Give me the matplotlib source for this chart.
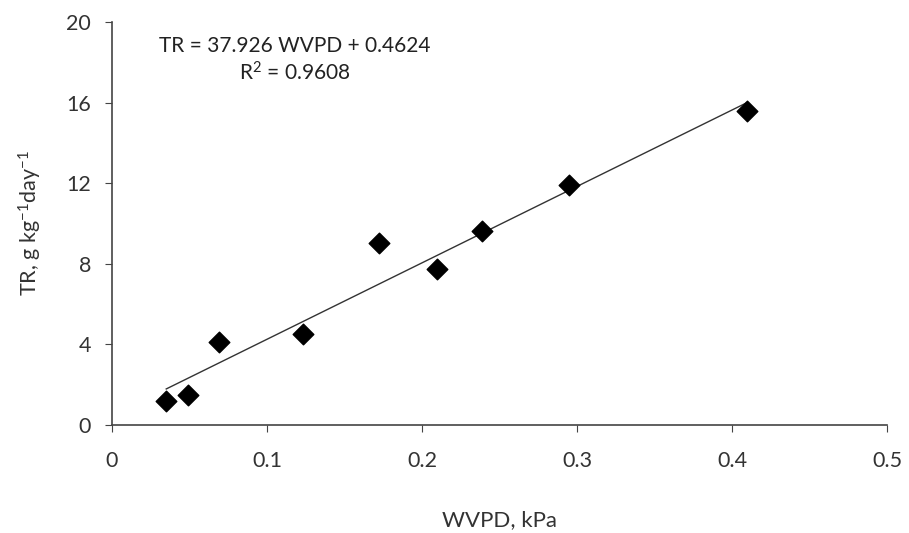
import matplotlib
matplotlib.use('Agg')
import matplotlib.pyplot as plt
import numpy as np

plt.rcParams['font.family'] = ['Lato', 'DejaVu Sans']
plt.rcParams['mathtext.fontset'] = 'custom'
plt.rcParams['mathtext.rm'] = 'Lato'
plt.rcParams['mathtext.it'] = 'Lato'
plt.rcParams['mathtext.default'] = 'rm'

# Data
wvpd = [0.035, 0.049, 0.069, 0.123, 0.172, 0.210, 0.239, 0.295, 0.410]
tr = [1.21, 1.49, 4.14, 4.51, 9.05, 7.76, 9.62, 11.89, 15.56]

slope = 37.926
intercept = 0.4624
r2 = 0.9608

fig = plt.figure(figsize=(9.09, 5.33), dpi=100)
ax = fig.add_axes([0.1232, 0.2026, 0.8526, 0.7561])

# Trend line across the data range
x_fit = np.array([min(wvpd), max(wvpd)])
ax.plot(x_fit, slope * x_fit + intercept, color='#333333', lw=1.0)

ax.scatter(wvpd, tr, marker='D', s=110, color='black', zorder=3)

ax.set_xlim(0, 0.5)
ax.set_ylim(0, 20)
ax.set_xticks([0, 0.1, 0.2, 0.3, 0.4, 0.5])
ax.set_xticklabels(['0', '0.1', '0.2', '0.3', '0.4', '0.5'])
ax.set_yticks([0, 4, 8, 12, 16, 20])

for s in ['top', 'right']:
    ax.spines[s].set_visible(False)
for s in ['left', 'bottom']:
    ax.spines[s].set_color('#444444')
    ax.spines[s].set_linewidth(1.2)

ax.tick_params(axis='both', labelsize=15.5, colors='#444444', length=5,
               labelcolor='#333333')
ax.tick_params(axis='x', pad=14)
ax.tick_params(axis='y', pad=10)

ax.set_xlabel('WVPD, kPa', fontsize=16, color='#333333', labelpad=28)
ax.set_ylabel('TR, g kg$^{-1}$day$^{-1}$', fontsize=15.5, color='#333333',
              labelpad=16)

ax.text(0.118, 18.1, f'TR = {slope} WVPD + {intercept}\nR$^2$ = {r2}',
        ha='center', va='center', fontsize=15, color='#222222',
        linespacing=1.25)

fig.savefig('out.png', dpi=100)
